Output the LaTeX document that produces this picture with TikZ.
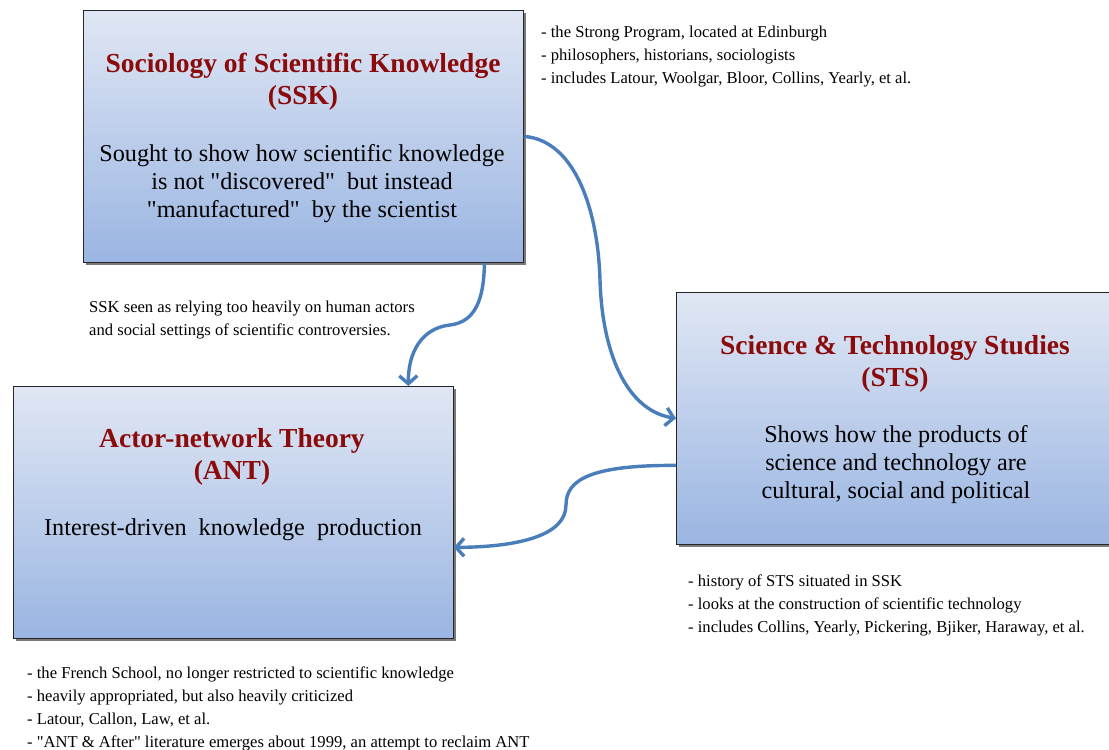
\documentclass[tikz,border=0pt]{standalone}
\usepackage{fontspec}
\setmainfont{Liberation Serif}
\usetikzlibrary{arrows.meta,shadows}

\definecolor{boxtop}{HTML}{E0E7F4}
\definecolor{boxbot}{HTML}{9AB5E2}
\definecolor{titlered}{HTML}{8B0A0A}
\definecolor{linkblue}{HTML}{4A7EBB}

% straight double quotes round a word
\newcommand{\sq}[1]{\textquotedbl#1\textquotedbl}

\tikzset{
  box/.style={draw=black!85, line width=0.8pt, anchor=north west,
    top color=boxtop, bottom color=boxbot,
    drop shadow={shadow xshift=2.5pt, shadow yshift=-2.5pt, opacity=0.75, fill=black!70}},
  boxtitle/.style={text=titlered, align=center, font=\bfseries\fontsize{27.5}{32}\selectfont},
  boxtext/.style={align=center, font=\fontsize{24.2}{28}\selectfont},
  note/.style={align=left, anchor=north west, inner sep=0pt, font=\fontsize{16.6}{23}\selectfont},
  link/.style={draw=linkblue, line width=3.4pt, -{Straight Barb[length=8pt,width=18pt]}}
}

\begin{document}
\begin{tikzpicture}[x=1pt, y=-1pt]
  \useasboundingbox (0,0) rectangle (1109,750);

  % the three boxes
  \node[box, minimum width=440, minimum height=252] (ssk) at (83,10) {};
  \node[box, minimum width=440, minimum height=252] (sts) at (676,292) {};
  \node[box, minimum width=440, minimum height=252] (ant) at (13,386) {};

  % SSK
  \node[boxtitle] (ssktitle) at (303,82) {Sociology of Scientific Knowledge\\(SSK)};
  \node[boxtext] (ssktext) at (302,184) {Sought to show how scientific knowledge\\
    is not \sq{discovered}\ \ but instead\\\sq{manufactured}\ \ by the scientist};

  % STS
  \node[boxtitle] (ststitle) at (895,364) {Science \& Technology Studies\\(STS)};
  \node[boxtext] (ststext) at (896,465) {Shows how the products of\\
    science and technology are\\cultural, social and political};

  % ANT
  \node[boxtitle] (anttitle) at (232,457) {Actor-network Theory\\(ANT)};
  \node[boxtext] (anttext) at (233,530) {Interest-driven\ \ knowledge\ \ production};

  % notes
  \node[note] (ssknote) at (541,26) {- the Strong Program, located at Edinburgh\\
    - philosophers, historians, sociologists\\
    - includes Latour, Woolgar, Bloor, Collins, Yearly, et al.};
  \node[note] (linknote) at (89,301) {SSK seen as relying too heavily on human actors\\
    and social settings of scientific controversies.};
  \node[note] (stsnote) at (688,575) {- history of STS situated in SSK\\
    - looks at the construction of scientific technology\\
    - includes Collins, Yearly, Pickering, Bjiker, Haraway, et al.};
  \node[note] (antnote) at (27,667) {- the French School, no longer restricted to scientific knowledge\\
    - heavily appropriated, but also heavily criticized\\
    - Latour, Callon, Law, et al.\\
    - \sq{ANT \& After} literature emerges about 1999, an attempt to reclaim ANT};

  % connectors
  \draw[link] ([xshift=181pt]ssk.south) .. controls (484,300) and (475,322) .. (450,325)
    .. controls (422,328) and (408,352) .. ([xshift=175pt]ant.north);
  \draw[link] (ssk.east) .. controls (575,140) and (598,210) .. (600,280)
    .. controls (602,350) and (625,410) .. (sts.west);
  \draw[link] ([yshift=-47pt]sts.west) .. controls (590,465) and (566,480) .. (566,505)
    .. controls (566,535) and (520,547) .. ([yshift=-35pt]ant.east);
\end{tikzpicture}
\end{document}
